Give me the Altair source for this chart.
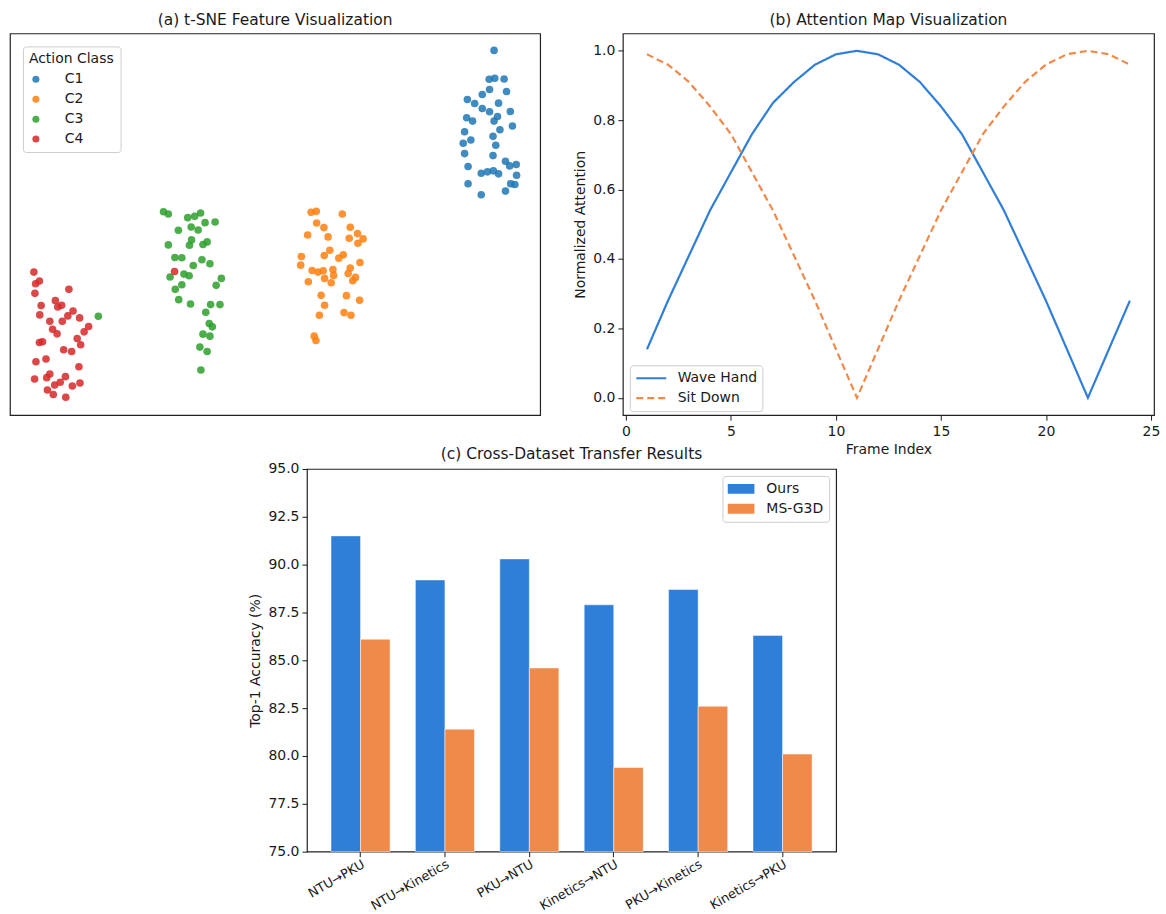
import altair as alt
import pandas as pd

# ---------- (a) t-SNE scatter (coordinates in embedding units as read) ----------
c1_x = [1424,1410,1426,1453,1411,1460,1390,1347,1368,1437,1390,1411,1471,1434,1345,1362,1424,1477,1441,1339,
        1357,1421,1335,1429,1339,1421,1457,1469,1488,1349,1387,1405,1422,1437,1489,1349,1472,1484,1457,1387]
c1_y = [63,150,147,149,181,187,196,211,223,222,238,248,247,262,266,276,276,291,302,308,
        333,322,343,349,374,380,397,411,407,413,433,429,426,435,439,465,465,467,487,498]
c2_x = [896,911,986,912,933,1009,886,945,1030,1006,1046,1031,950,868,934,976,989,1037,866,899,
        916,931,959,1009,961,1003,935,1024,888,954,1016,925,998,1036,935,991,1011,920,905,910]
c2_y = [551,548,556,583,597,596,619,625,615,629,631,644,665,684,681,689,679,702,710,726,
        731,727,723,719,741,735,750,747,760,763,757,801,802,816,831,853,861,861,924,937]
c3_x = [470,484,540,560,577,590,619,513,550,570,596,551,545,584,484,503,523,581,556,604,
        529,544,489,637,523,622,504,514,548,606,633,592,602,611,584,604,575,596,578,282]
c3_y = [549,556,567,563,553,582,580,605,595,604,640,634,650,648,649,687,688,694,711,706,
        737,742,746,750,769,771,783,814,827,829,829,852,886,896,918,924,957,970,1026,864]
c4_x = [96,101,112,99,197,158,117,165,176,113,209,194,228,142,178,254,150,241,163,221,
        112,121,231,182,205,102,131,226,98,133,142,187,172,156,229,207,135,152,188,502]
c4_y = [731,766,758,795,783,817,832,836,831,860,848,863,869,879,879,895,903,911,917,931,
        943,941,950,965,970,1001,993,1016,1053,1049,1038,1046,1063,1071,1065,1074,1086,1100,1108,729]
classes = ["C1", "C2", "C3", "C4"]
class_colors = ["#1f77b4", "#ff7f0e", "#2ca02c", "#d62728"]

# ---------- (b) attention curves ----------
frames = list(range(1, 25))
wave_hand = [0.14,0.28,0.41,0.54,0.65,0.76,0.85,0.91,0.96,0.99,1.00,0.99,
             0.96,0.91,0.84,0.76,0.65,0.54,0.41,0.28,0.14,0.00,0.14,0.28]
sit_down = [0.99,0.96,0.91,0.84,0.76,0.65,0.54,0.41,0.28,0.14,0.00,0.14,
            0.28,0.41,0.54,0.65,0.76,0.84,0.91,0.96,0.99,1.00,0.99,0.96]
actions = ["Wave Hand", "Sit Down"]

# ---------- (c) transfer results ----------
routes = ["NTU→PKU", "NTU→Kinetics", "PKU→NTU", "Kinetics→NTU", "PKU→Kinetics", "Kinetics→PKU"]
ours = [91.5, 89.2, 90.3, 87.9, 88.7, 86.3]
msg3d = [86.1, 81.4, 84.6, 79.4, 82.6, 80.1]
methods = ["Ours", "MS-G3D"]

FONT = "DejaVu Sans"
TXT = "#1a1a1a"

rows = []
for cls, xs, ys in zip(classes, [c1_x, c2_x, c3_x, c4_x], [c1_y, c2_y, c3_y, c4_y]):
    for x, y in zip(xs, ys):
        rows.append({"x": x, "y": y, "cls": cls})
df_a = pd.DataFrame(rows)

df_b = pd.DataFrame(
    [{"frame": f, "v": v, "action": "Wave Hand"} for f, v in zip(frames, wave_hand)]
    + [{"frame": f, "v": v, "action": "Sit Down"} for f, v in zip(frames, sit_down)]
)

df_c = pd.DataFrame(
    [{"route": r, "acc": v, "method": "Ours"} for r, v in zip(routes, ours)]
    + [{"route": r, "acc": v, "method": "MS-G3D"} for r, v in zip(routes, msg3d)]
)

title_kw = dict(fontSize=15.5, font=FONT, fontWeight="normal", color=TXT,
                anchor="middle", frame="group")

legend_common = dict(
    labelFont=FONT, labelFontSize=14, labelColor=TXT,
    titleFont=FONT, titleFontSize=14, titleColor=TXT, titleFontWeight="normal",
    strokeColor="#cccccc", fillColor="white", cornerRadius=3,
)

panel_a = alt.Chart(df_a).mark_circle(size=58, opacity=0.85).encode(
    x=alt.X("x:Q", scale=alt.Scale(domain=[27, 1557], nice=False, zero=False), axis=None),
    y=alt.Y("y:Q", scale=alt.Scale(domain=[12, 1162], nice=False, zero=False, reverse=True), axis=None),
    color=alt.Color("cls:N", scale=alt.Scale(domain=classes, range=class_colors),
                    legend=alt.Legend(title="Action Class", orient="none", legendX=13, legendY=13,
                                      symbolSize=50, symbolOpacity=0.85, labelOffset=22,
                                      rowPadding=6, titlePadding=6, padding=6, **legend_common)),
).properties(width=532, height=383,
             title=alt.TitleParams("(a) t-SNE Feature Visualization", offset=5, **title_kw))

axis_kw = dict(grid=False, domain=False, tickColor=TXT, tickSize=5, labelFont=FONT,
               labelColor=TXT, titleFont=FONT, titleFontSize=14, titleColor=TXT,
               titleFontWeight="normal")

panel_b = alt.Chart(df_b).mark_line(strokeWidth=2.2).encode(
    x=alt.X("frame:Q", scale=alt.Scale(domain=[-0.15, 25.15], nice=False, zero=False),
            axis=alt.Axis(values=[0, 5, 10, 15, 20, 25], title="Frame Index", titlePadding=4,
                          labelPadding=4, labelFontSize=14, **axis_kw)),
    y=alt.Y("v:Q", scale=alt.Scale(domain=[-0.05, 1.05], nice=False, zero=False),
            axis=alt.Axis(values=[0, 0.2, 0.4, 0.6, 0.8, 1.0], format=".1f",
                          title="Normalized Attention", titlePadding=5, labelPadding=3,
                          labelFontSize=14, **axis_kw)),
    color=alt.Color("action:N", scale=alt.Scale(domain=actions, range=["#2f7ed8", "#f0894a"]),
                    legend=alt.Legend(title=None, orient="none", legendX=7, legendY=333,
                                      symbolType="stroke", symbolSize=900, symbolStrokeWidth=2.2,
                                      clipHeight=16, labelOffset=10, rowPadding=4, padding=5,
                                      **legend_common)),
    strokeDash=alt.StrokeDash("action:N", scale=alt.Scale(domain=actions, range=[[1, 0], [7, 4]]),
                              legend=None),
).properties(width=533, height=383,
             title=alt.TitleParams("(b) Attention Map Visualization", offset=5, **title_kw))

rect_path = "M-1,-0.37L1,-0.37L1,0.37L-1,0.37Z"
panel_c = alt.Chart(df_c).mark_bar(stroke="white", strokeOpacity=0.6, strokeWidth=0.8).encode(
    x=alt.X("route:N", sort=routes, scale=alt.Scale(paddingInner=0.3, paddingOuter=0.285),
            axis=alt.Axis(title=None, labelAngle=330, labelAlign="right", labelBaseline="top",
                          labelPadding=1, labelFontSize=12.8, **axis_kw)),
    xOffset=alt.XOffset("method:N", sort=methods, scale=alt.Scale(domain=methods, paddingInner=0, paddingOuter=0)),
    y=alt.Y("acc:Q", scale=alt.Scale(domain=[75, 95], nice=False, zero=False, clamp=True),
            axis=alt.Axis(values=[75, 77.5, 80, 82.5, 85, 87.5, 90, 92.5, 95], format=".1f",
                          title="Top-1 Accuracy (%)", titlePadding=5, labelPadding=3,
                          labelFontSize=14, **axis_kw)),
    color=alt.Color("method:N", scale=alt.Scale(domain=methods, range=["#2f7ed8", "#f08a4b"]),
                    legend=alt.Legend(title=None, orient="none", legendX=715, legendY=7,
                                      symbolType=rect_path, symbolSize=729, symbolStrokeWidth=0,
                                      clipHeight=16, labelOffset=12, rowPadding=4, padding=5,
                                      **legend_common)),
).properties(width=531, height=384,
             title=alt.TitleParams("(c) Cross-Dataset Transfer Results", offset=0, **title_kw))

spacer = alt.Chart(pd.DataFrame({"v": [0]})).mark_point(opacity=0).encode(
    x=alt.X("v:Q", axis=None), y=alt.Y("v:Q", axis=None)
).properties(width=239, height=384, view=alt.ViewBackground(strokeOpacity=0))

top = alt.hconcat(panel_a, panel_b, spacing=32).resolve_scale(
    color="independent", strokeDash="independent")
bottom = alt.hconcat(spacer, panel_c, spacing=0)

chart = alt.vconcat(top, bottom, spacing=-12).resolve_scale(
    color="independent", strokeDash="independent", x="independent", y="independent"
).properties(
    padding={"left": 9, "top": 10, "right": 5, "bottom": 2}, background="white"
).configure_view(stroke="#222222", strokeWidth=1.2)

chart.save("out.html", embed_options={"renderer": "svg", "actions": False})
